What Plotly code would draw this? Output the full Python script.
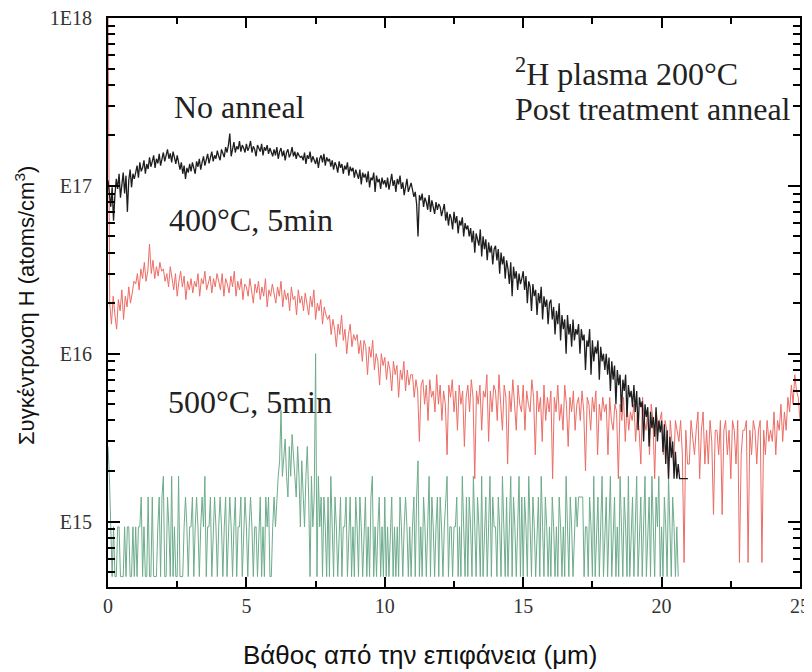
import numpy as np
import plotly.graph_objects as go

# H concentration, units of 1e15 atoms/cm^3
DEPTH_STEP_NOANNEAL = 0.05   # um
no_anneal = [
    108, 92, 75, 98, 62, 88, 110, 96, 118, 85, 104, 120, 90, 115, 70, 108, 125, 98, 118, 110,
    120, 132, 112, 138, 122, 128, 142, 118, 135, 126, 148, 130, 140, 152, 128, 145, 136, 155, 132, 142,
    158, 140, 152, 165, 145, 156, 138, 160, 148, 135, 152, 140, 125, 138, 118, 132, 110, 128, 120, 135,
    122, 138, 128, 118, 140, 130, 145, 125, 138, 150, 132, 145, 155, 136, 148, 160, 140, 152, 145, 162,
    150, 142, 165, 155, 148, 170, 158, 175, 205, 150, 168, 182, 158, 172, 165, 185, 160, 175, 168, 158,
    178, 162, 170, 185, 158, 172, 165, 150, 175, 168, 160, 178, 152, 170, 162, 175, 155, 168, 160, 150,
    165, 152, 170, 145, 160, 168, 150, 162, 142, 158, 165, 148, 155, 170, 150, 160, 145, 158, 152, 148,
    150, 142, 158, 135, 152, 145, 160, 138, 150, 142, 135, 148, 128, 145, 152, 138, 155, 132, 148, 140,
    145, 130, 142, 125, 138, 132, 120, 140, 128, 135, 118, 132, 125, 138, 115, 130, 122, 128, 112, 125,
    118, 110, 125, 102, 120, 112, 118, 105, 122, 98, 112, 108, 120, 92, 115, 105, 110, 96, 112, 102,
    108, 98, 112, 95, 105, 118, 100, 108, 92, 110, 102, 115, 96, 105, 88, 100, 110, 92, 98, 104,
    95, 86, 92, 78, 50, 88, 82, 90, 75, 85, 80, 72, 88, 70, 82, 76, 68, 80, 72, 78,
    75, 66, 72, 78, 62, 70, 58, 68, 64, 55, 70, 60, 66, 52, 62, 58, 65, 50, 60, 55,
    58, 50, 56, 46, 54, 40, 52, 48, 44, 55, 38, 50, 42, 48, 36, 46, 40, 44, 34, 42,
    44, 36, 42, 30, 40, 34, 38, 28, 36, 32, 26, 35, 22, 33, 28, 31, 24, 30, 26, 28,
    31, 24, 29, 20, 27, 25, 18, 26, 22, 24, 17, 23, 20, 25, 16, 22, 19, 21, 15, 20,
    21, 16, 19, 13, 18, 15, 20, 12, 17, 14, 16, 10, 17, 13, 15, 11, 16, 12, 14, 13,
    15, 10, 14, 12, 13, 8, 12, 11, 14, 7.5, 12, 9, 11, 10, 12, 7, 11, 9, 10, 8,
    10, 7.5, 9.5, 6, 9, 7, 8.5, 5, 8, 6.5, 7.5, 4.5, 7, 6, 7.5, 4.2, 6.5, 5.5, 6, 4.8,
    6.5, 4.5, 6, 3.5, 5.5, 4.8, 5.2, 3, 5, 4.2, 4.8, 2.8, 4.5, 3.6, 4.2, 3.2, 4.8, 3, 4, 3.4,
    4, 2.6, 3.8, 2.2, 3.5, 1.8, 3.2, 2.4, 3, 1.8, 2.6, 1.8, 2.2, 1.8, 1.8, 1.8, 1.8, 1.8, 1.8, 1.8,
]

DEPTH_STEP_400 = 0.0625
anneal_400 = [
    1200, 20, 15, 22, 17, 14, 21, 18, 24, 16, 22, 19, 25, 20, 23, 27,
    26, 30, 24, 32, 28, 35, 27, 31, 45, 30, 36, 28, 33, 29, 35, 31,
    32, 27, 30, 25, 33, 28, 24, 30, 22, 27, 31, 25, 29, 21, 27, 24,
    28, 23, 27, 25, 30, 22, 28, 26, 31, 24, 27, 29, 23, 28, 25, 30,
    27, 24, 30, 22, 28, 26, 23, 29, 25, 31, 22, 27, 24, 28, 21, 26,
    25, 22, 28, 24, 20, 26, 23, 27, 21, 25, 22, 28, 19, 24, 22, 26,
    23, 20, 25, 22, 27, 19, 24, 21, 23, 18, 25, 21, 22, 17, 24, 20,
    22, 18, 23, 20, 17, 22, 19, 24, 16, 20, 18, 21, 15, 19, 17, 16,
    17, 13, 16, 14, 11, 15, 13, 17, 12, 14, 10, 13, 15, 11, 13, 12,
    13, 10, 12, 9, 12, 11, 7.5, 11, 9.5, 12, 8, 10, 9, 6.5, 10, 8.5,
    9.5, 7, 9, 8, 6, 9, 7.5, 8.5, 5.5, 8, 7, 9, 6, 8, 6.5, 7.5,
    7.5, 5.5, 7, 6, 3, 6.5, 7, 5, 6.5, 4, 7, 5.5, 6, 4.5, 7.5, 5,
    6.5, 4, 6, 5, 2.5, 6.5, 5.5, 7, 4.5, 6, 3.5, 6.5, 5, 6, 2.8, 5.5,
    6.5, 4.5, 7, 5.5, 1.8, 6, 5, 6.5, 3.5, 6, 5.5, 7.5, 3, 6, 4.5, 6.5,
    6, 4, 7.5, 5, 3.5, 6.5, 5.5, 2.2, 6, 4.5, 7, 5, 3.5, 6.5, 5, 4.5,
    6.5, 3.5, 6, 5, 4.5, 7, 5.5, 2.5, 6, 4.5, 5.5, 3, 6.5, 4, 5.5, 4.5,
    6, 1.8, 5.5, 4.5, 6.5, 4, 5, 3.5, 6.5, 5, 2.8, 5.5, 4.5, 6, 3.5, 5,
    5.5, 4, 6, 4.5, 2, 5.5, 5, 3.5, 5.5, 4.5, 6, 2.5, 5, 4, 5.5, 4.5,
    5, 2.5, 5.5, 4, 3.5, 5, 4.5, 1.8, 5, 4, 5.5, 3, 5, 3.5, 4.5, 4,
    5, 3, 4.5, 3.5, 2.2, 5.5, 4, 3.5, 4.5, 2.5, 5, 4, 1.8, 4.5, 3.5, 4,
    4.5, 2.5, 4, 3.5, 1.8, 4, 3, 2.2, 4, 3.5, 3, 4, 2.5, 0.57, 3.5, 2.2,
    2.2, 4, 3, 2.5, 3.5, 4.5, 1.8, 3.5, 4.5, 2.2, 3.5, 2.2, 4, 3, 1.1, 3.5,
    3.5, 2.5, 4, 1.1, 3.5, 4, 2.5, 3.5, 1.8, 4, 3.5, 2.2, 4, 0.57, 2.5, 3.5,
    3.5, 4, 0.57, 3.5, 2.5, 4, 3.5, 2.2, 3.5, 4, 0.57, 3.5, 2.5, 4, 3, 3.5,
    3, 4.5, 2.5, 4, 3.5, 5, 3, 4.5, 3.5, 5.5, 4.5, 6.5, 5, 7.5, 6, 5.5,
    4,
]

DEPTH_STEP_500 = 0.05
anneal_500 = [
    2.8, 1.86, 0.93, 0.47, 0.93, 0.47, 0.47, 0.93, 0.93, 0.47, 0.47, 0.47, 0.93, 0.47, 0.93, 0.93, 0.47, 0.47, 0.93, 0.47,
    0.93, 0.47, 0.93, 0.93, 1.4, 0.47, 0.93, 0.47, 0.47, 1.4, 0.47, 0.47, 1.4, 0.47, 0.47, 0.47, 0.93, 1.4, 0.47, 1.4,
    1.86, 0.47, 0.47, 1.4, 0.93, 0.47, 1.86, 0.47, 0.93, 0.47, 0.47, 1.86, 0.47, 0.47, 0.47, 0.93, 1.4, 0.93, 0.47, 0.93,
    0.93, 1.4, 0.47, 0.93, 1.4, 0.93, 0.47, 0.93, 1.4, 0.93, 1.86, 0.47, 0.93, 0.93, 1.4, 0.47, 0.93, 1.4, 0.93, 0.47,
    0.93, 1.4, 0.93, 0.47, 0.93, 1.4, 0.47, 0.93, 1.4, 0.93, 0.47, 0.93, 1.4, 0.47, 0.93, 0.93, 1.4, 0.47, 0.93, 1.4,
    0.93, 0.47, 0.93, 1.4, 0.93, 0.47, 0.93, 0.93, 0.47, 0.93, 1.4, 0.47, 0.93, 0.47, 1.4, 0.93, 1.4, 0.47, 0.47, 0.93,
    1.4, 0.93, 1.4, 1.86, 2.3, 4.6, 1.86, 2.3, 3.1, 1.86, 1.4, 2.8, 1.86, 3.3, 2.3, 1.86, 1.4, 2.8, 1.86, 0.93,
    2.3, 1.4, 0.93, 1.86, 2.8, 1.4, 0.47, 1.86, 0.93, 1.4, 10, 0.47, 1.86, 0.93, 1.4, 0.47, 1.4, 0.93, 0.47, 1.4,
    0.47, 1.86, 0.93, 0.47, 1.4, 0.93, 0.47, 0.93, 1.4, 0.47, 0.93, 0.93, 1.4, 0.47, 0.93, 1.4, 0.47, 0.93, 0.47, 1.4,
    0.93, 0.47, 1.4, 0.93, 0.47, 0.93, 1.4, 0.47, 0.93, 0.47, 1.4, 1.86, 0.47, 0.93, 0.47, 0.93, 1.4, 0.47, 0.93, 0.47,
    1.4, 0.47, 0.93, 0.47, 0.93, 1.4, 0.47, 0.93, 0.47, 0.93, 0.47, 1.4, 0.93, 0.47, 0.93, 1.4, 0.93, 0.47, 0.93, 0.47,
    0.93, 1.4, 0.47, 1.4, 2.3, 0.47, 0.93, 0.47, 1.4, 0.93, 0.47, 0.93, 1.86, 0.47, 1.4, 0.93, 0.47, 0.93, 1.4, 0.47,
    1.4, 0.93, 0.47, 0.93, 1.4, 1.86, 0.47, 0.93, 0.93, 0.47, 0.93, 0.93, 1.4, 0.47, 0.93, 0.47, 1.86, 0.93, 0.47, 1.4,
    0.47, 1.4, 0.93, 0.47, 1.86, 0.93, 0.47, 1.4, 0.93, 0.47, 1.86, 0.47, 0.93, 1.4, 0.47, 0.93, 1.86, 0.47, 1.4, 0.93,
    0.93, 0.47, 1.4, 0.93, 0.47, 1.86, 0.93, 0.47, 1.4, 0.47, 0.93, 1.86, 0.47, 1.4, 0.93, 0.47, 0.93, 1.86, 0.47, 1.4,
    0.47, 1.4, 0.93, 0.47, 1.86, 0.93, 0.47, 1.4, 0.93, 0.47, 0.93, 1.4, 0.47, 1.86, 0.93, 0.47, 1.4, 0.93, 0.47, 0.93,
    0.47, 1.4, 0.93, 0.47, 0.93, 0.47, 1.4, 0.93, 0.47, 0.93, 0.47, 1.86, 0.93, 0.47, 1.4, 0.93, 0.47, 0.93, 1.4, 0.93,
    1.4, 1.4, 1.4, 1.4, 0.47, 0.93, 0.93, 0.47, 1.4, 0.93, 0.47, 1.86, 0.47, 0.93, 1.4, 0.47, 0.93, 1.86, 0.47, 0.93,
    1.4, 0.47, 0.93, 1.86, 0.47, 0.93, 1.4, 0.47, 0.93, 0.47, 1.86, 0.93, 0.47, 1.4, 0.93, 0.47, 1.86, 0.47, 0.93, 1.4,
    0.47, 0.93, 1.86, 0.47, 0.93, 1.4, 0.47, 0.93, 1.86, 0.47, 0.93, 1.4, 0.47, 1.86, 0.93, 0.47, 1.4, 0.93, 1.86, 0.47,
    0.93, 0.47, 1.4, 0.93, 0.47, 1.86, 0.93, 0.47, 1.4, 0.93, 0.47, 0.93, 0.47,
]

UNIT = 1e15
y_tickvals = [1e15, 1e16, 1e17, 1e18]
y_ticktext = ["E15", "E16", "E17", "1E18"]
x_tickvals = [0, 5, 10, 15, 20, 25]

def depths(n, step):
    return np.round(np.arange(n) * step, 4)

fig = go.Figure()
fig.add_trace(go.Scatter(x=depths(len(anneal_500), DEPTH_STEP_500),
                         y=np.array(anneal_500) * UNIT, mode="lines",
                         line=dict(color="#4a9870", width=1), opacity=0.8,
                         name="500°C, 5min"))
fig.add_trace(go.Scatter(x=depths(len(anneal_400), DEPTH_STEP_400),
                         y=np.array(anneal_400) * UNIT, mode="lines",
                         line=dict(color="#e8493f", width=1), opacity=0.8,
                         name="400°C, 5min"))
fig.add_trace(go.Scatter(x=depths(len(no_anneal), DEPTH_STEP_NOANNEAL),
                         y=np.array(no_anneal) * UNIT, mode="lines",
                         line=dict(color="#1e1e1e", width=1.3),
                         name="No anneal"))

minor_y = [m * 10 ** e for e in (14, 15, 16, 17) for m in range(2, 10)]

serif = "Liberation Serif, Times New Roman, serif"
sans = "Liberation Sans, Arial, sans-serif"

# The page body has an 8px default margin, so the figure is 8px smaller than the window
fig.update_layout(
    width=804, height=664,
    margin=dict(l=100, r=12, t=10, b=85, autoexpand=False),
    paper_bgcolor="white", plot_bgcolor="white",
    showlegend=False,
    xaxis=dict(range=[0, 25], tickmode="array", tickvals=x_tickvals, automargin=False,
               ticks="inside", ticklen=10, tickwidth=1.5, tickcolor="black",
               minor=dict(ticks="inside", dtick=2.5, tick0=0, ticklen=6, tickcolor="black"),
               showline=True, linecolor="black", linewidth=2, mirror="allticks",
               showgrid=False, zeroline=False, ticklabeloverflow="allow",
               tickfont=dict(family=serif, size=20, color="#333")),
    yaxis=dict(type="log", range=[14.61, 18.0], tickmode="array", automargin=False,
               tickvals=y_tickvals, ticktext=y_ticktext,
               ticks="inside", ticklen=12, tickwidth=1.5, tickcolor="black",
               minor=dict(ticks="inside", tickvals=minor_y, ticklen=7, tickcolor="black"),
               showline=True, linecolor="black", linewidth=2, mirror="allticks",
               showgrid=False, zeroline=False, ticklabelstandoff=10,
               ticklabeloverflow="allow",
               tickfont=dict(family=serif, size=20, color="#333")),
)

# positions given in window pixels of the plot frame: x 108..800, y 18..587
def px(xp, yp):
    return (xp - 108) / 692, (587 - yp) / 569

notes = [
    ("No anneal", 172, 107),
    ("400°C, 5min", 167, 220),
    ("500°C, 5min", 166, 402),
    ("<sup>2</sup>H plasma 200°C", 513, 72),
    ("Post treatment anneal", 513, 109),
]
for text, xp, yp in notes:
    ax, ay = px(xp, yp)
    fig.add_annotation(text=text, x=ax, y=ay, xref="paper", yref="paper",
                       xanchor="left", yanchor="middle", showarrow=False,
                       font=dict(family=serif, size=32, color="#222"))

tx, ty = px(420, 655)
fig.add_annotation(text="Βάθος από την επιφάνεια (μm)", x=tx, y=ty,
                   xref="paper", yref="paper", xanchor="center", yanchor="middle",
                   showarrow=False, font=dict(family=sans, size=26, color="#111"))
tx, ty = px(25, 306)
fig.add_annotation(text="Συγκέντρωση Η (atoms/cm<sup>3</sup>)", x=tx, y=ty,
                   xref="paper", yref="paper", xanchor="center", yanchor="middle",
                   textangle=-90, showarrow=False,
                   font=dict(family=sans, size=22, color="#111"))

fig.write_html("out.html")
